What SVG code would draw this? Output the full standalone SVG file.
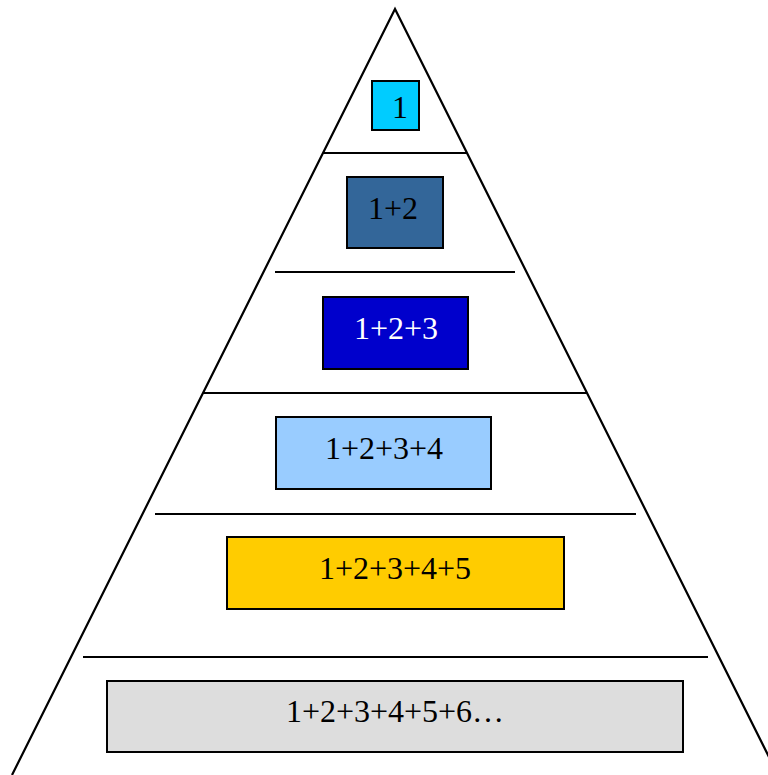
<svg xmlns="http://www.w3.org/2000/svg" width="768" height="775" viewBox="0 0 768 775">
<style>
.ln{stroke:#000;stroke-width:2.2;fill:none}
.bx{stroke:#000;stroke-width:2}
.t{font-family:"Liberation Serif","Times New Roman",serif;font-size:32px;text-anchor:middle;fill:#000}
</style>
<rect width="768" height="775" fill="#fff"/>
<g id="pyramid">
<polyline class="ln" points="12,775 395,9 778,775"/>
<line class="ln" x1="323" y1="153" x2="467" y2="153"/>
<line class="ln" x1="275" y1="272" x2="515" y2="272"/>
<line class="ln" x1="203" y1="393" x2="587" y2="393"/>
<line class="ln" x1="155" y1="514" x2="636" y2="514"/>
<line class="ln" x1="83" y1="657" x2="708" y2="657"/>
</g>
<g id="n1"><rect class="bx" x="372" y="81" width="47" height="49" fill="#00CCFF"/><text class="t" x="400" y="118">1</text></g>
<g id="n2"><rect class="bx" x="347" y="177" width="96" height="71" fill="#336699"/><text class="t" x="393" y="219">1+2</text></g>
<g id="n3"><rect class="bx" x="323" y="297" width="145" height="72" fill="#0000CC"/><text class="t" x="396" y="339" style="fill:#fff">1+2+3</text></g>
<g id="n4"><rect class="bx" x="276" y="417" width="215" height="72" fill="#99CCFF"/><text class="t" x="384" y="459">1+2+3+4</text></g>
<g id="n5"><rect class="bx" x="227" y="537" width="337" height="72" fill="#FFCC00"/><text class="t" x="395" y="579">1+2+3+4+5</text></g>
<g id="n6"><rect class="bx" x="107" y="681" width="576" height="71" fill="#DDDDDD"/><text class="t" x="395" y="722">1+2+3+4+5+6…</text></g>
</svg>
